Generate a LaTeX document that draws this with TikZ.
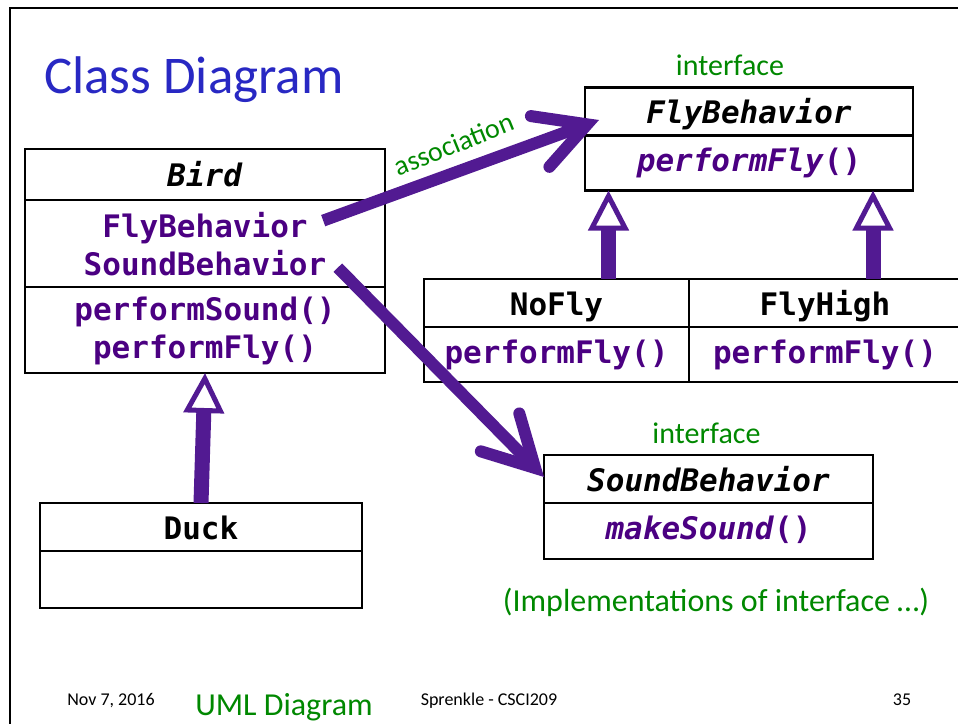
\documentclass[tikz,border=0pt]{standalone}
\usepackage{fontspec}
\setmainfont{Carlito}
\newfontfamily\umlmono{DejaVu Sans Mono}
\usetikzlibrary{arrows.meta,positioning,calc}

\definecolor{titleblue}{RGB}{40,40,195}
\definecolor{umlpurple}{RGB}{75,0,130}
\definecolor{arrowpurple}{RGB}{82,26,146}
\definecolor{notegreen}{RGB}{0,136,0}

\begin{document}
\begin{tikzpicture}[
  x=1pt, y=-1pt,
  title/.style={font=\fontsize{53}{60}\selectfont, text=titleblue, anchor=base west, inner sep=0pt},
  classbox/.style={draw, line width=2.2pt, inner sep=0pt, outer sep=0pt, font=\umlmono\bfseries\fontsize{31}{37}\selectfont, text height=31pt, text depth=7pt},
  opbox/.style={classbox, text=umlpurple, text height=24pt},
  member/.style={font=\umlmono\bfseries\fontsize{31}{37}\selectfont, text=umlpurple, anchor=base},
  lab/.style={font=\fontsize{30}{36}\selectfont, text=notegreen},
  stereo/.style={lab, anchor=base},
  footer/.style={font=\fontsize{18}{22}\selectfont, anchor=base},
  generalize/.style={line width=15pt, draw=arrowpurple, -{Triangle[fill=white, length=40pt, width=40pt, line width=5pt]}},
  assoc/.style={line width=12pt, draw=arrowpurple, -{Straight Barb[length=50pt, width=54pt, line cap=round, line join=miter]}}
]
\useasboundingbox (0,0) rectangle (958,724);
\draw[line width=1.5pt] (958,8) -- (10,8) -- (10,724);
\node[title] (heading) at (44,93) {Class Diagram};

% Bird
\node[classbox, minimum width=360pt, minimum height=51pt] (bird) at (205,174.5) {\textit{Bird}};
\node[classbox, minimum width=360pt, minimum height=87pt, below=0pt of bird] (birdattr) {};
\node[classbox, minimum width=360pt, minimum height=86pt, below=0pt of birdattr] (birdops) {};
\node[member] (flyattr) at (205,237) {FlyBehavior};
\node[member] (soundattr) at (205,275) {SoundBehavior};
\node[member] (soundop) at (205,320) {performSound()};
\node[member] (flyop) at (205,358) {performFly()};

% FlyBehavior and its implementations
\node[stereo] (flystereo) at (730,75) {interface};
\node[classbox, minimum width=328pt, minimum height=48pt] (flyiface) at (749,111.5) {\textit{FlyBehavior}};
\node[opbox, minimum width=328pt, minimum height=55pt, below=0pt of flyiface] (flyifaceops) {\textit{performFly}()};
\node[classbox, minimum width=265pt, minimum height=48pt] (nofly) at (556.5,303) {NoFly};
\node[opbox, minimum width=265pt, minimum height=55pt, below=0pt of nofly] (noflyops) {performFly()};
\node[classbox, minimum width=272pt, minimum height=48pt, right=0pt of nofly] (flyhigh) {FlyHigh};
\node[opbox, minimum width=272pt, minimum height=55pt, below=0pt of flyhigh] (flyhighops) {performFly()};

% SoundBehavior
\node[stereo] (soundstereo) at (706.5,443) {interface};
\node[classbox, minimum width=329pt, minimum height=48pt] (soundiface) at (708.5,479) {\textit{SoundBehavior}};
\node[opbox, minimum width=329pt, minimum height=56pt, below=0pt of soundiface] (soundifaceops) {\textit{makeSound}()};

% Duck
\node[classbox, minimum width=322pt, minimum height=48pt] (duck) at (201,527) {Duck};
\node[classbox, minimum width=322pt, minimum height=57pt, below=0pt of duck] (duckbody) {};

\node[stereo, font=\fontsize{32}{38}\selectfont] (implnote) at (716,611.7) {(Implementations of interface …)};

% footer
\node[footer] (date) at (111,705) {Nov 7, 2016};
\node[footer, font=\fontsize{32}{38}\selectfont, text=notegreen] (course) at (284,715) {UML Diagram};
\node[footer] (author) at (489,705) {Sprenkle - CSCI209};
\node[footer] (page) at (902,705) {35};

% connectors
\draw[generalize] (duck.north) -- (birdops.south);
\coordinate (noflyup) at ($(nofly.north)+(52,0)$);
\coordinate (flyhighup) at ($(flyhigh.north)+(48,0)$);
\draw[generalize] (noflyup) -- (noflyup |- flyifaceops.south);
\draw[generalize] (flyhighup) -- (flyhighup |- flyifaceops.south);
\draw[assoc] ($(flyattr.east)+(12,-7)$) -- node[lab, font=\fontsize{28}{34}\selectfont, sloped, rotate=2, above=8pt, pos=0.51] (assoclabel) {association} ($(flyiface.west)+(14,8.5)$);
\draw[assoc] ($(soundattr.east)+(8,5)$) -- ($(soundiface.west)+(0,-2)$);
\end{tikzpicture}
\end{document}
